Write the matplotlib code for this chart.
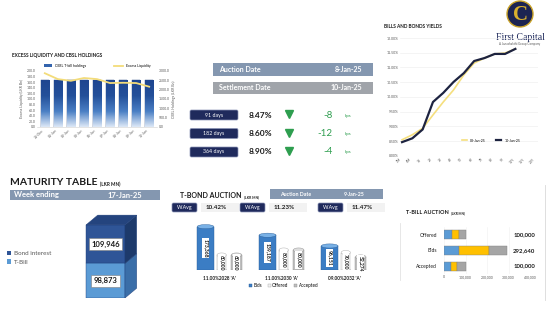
import matplotlib.pyplot as plt
import numpy as np
from matplotlib.patches import Rectangle, Polygon, Ellipse, Circle, FancyBboxPatch
from matplotlib.colors import LinearSegmentedColormap
from matplotlib.lines import Line2D
import matplotlib.transforms as mtransforms

plt.rcParams['font.family'] = ['Lato', 'DejaVu Sans']

W, H = 550, 310

# ---- data ----
liq_dates = ["31-Dec", "01-Jan", "02-Jan", "03-Jan", "06-Jan", "07-Jan", "08-Jan", "09-Jan", "10-Jan"]
cbsl_holdings = [2515.0, 2515.0, 2515.0, 2515.0, 2515.0, 2515.0, 2515.0, 2515.0, 2515.0]
excess_liquidity = [192.0, 171.0, 165.0, 175.0, 171.0, 157.0, 158.0, 157.0, 144.0]

auction_date = "8-Jan-25"
settlement_date = "10-Jan-25"
tbill_tenors = ["91 days", "182 days", "364 days"]
tbill_yields = [8.47, 8.60, 8.90]
tbill_change_bps = [-8, -12, -4]

yield_tenors = ["3M", "6M", "1Y", "2Y", "3Y", "4Y", "5Y", "6Y", "7Y", "8Y", "9Y", "10Y", "15Y", "20Y"]
yields_prev = [8.55, 8.72, 8.94, 9.39, 9.83, 10.24, 10.75, 11.15, 11.32, 11.46, 11.49, 11.63]
yields_curr = [8.47, 8.60, 8.90, 9.83, 10.14, 10.51, 10.81, 11.22, 11.32, 11.46, 11.46, 11.63]

week_ending = "17-Jan-25"
maturity_labels = ["T-Bill", "Bond interest"]
maturity_values = [98873, 109946]

tbond_auction_date = "9-Jan-25"
tbond_names = ["11.00%2028 'A'", "11.00%2030 'A'", "09.00%2032 'A'"]
tbond_wavg = [10.42, 11.23, 11.47]
tbond_bids = [173368, 139187, 96151]
tbond_offered = [60000, 80000, 70000]
tbond_accepted = [60000, 80000, 52274]

tbill_cats = ["Accepted", "Bids", "Offered"]
tbill_91 = [31000, 68450, 35000]
tbill_182 = [30500, 141770, 35000]
tbill_364 = [38500, 82420, 30000]

NAVY = "#1f2a5c"
STEEL = "#8497b0"
GREEN = "#2e9e4f"
TXT = "#1a1a1a"
GREYTXT = "#595959"


def rect(x, y, w, h):
    return [x / W, 1 - (y + h) / H, w / W, h / H]


fig = plt.figure(figsize=(5.5, 3.1), dpi=100)
fig.patch.set_facecolor("white")

ov = fig.add_axes([0, 0, 1, 1])
ov.set_xlim(0, W)
ov.set_ylim(H, 0)
ov.axis("off")


def box(x, y, w, h, color, ec="none", rounded=False):
    if rounded:
        p = FancyBboxPatch((x, y), w, h, boxstyle="round,pad=0,rounding_size=1.5",
                           fc=color, ec=ec, lw=0.5)
    else:
        p = Rectangle((x, y), w, h, fc=color, ec=ec, lw=0.5)
    ov.add_patch(p)


def title_with_unit(x, y, title, size, unit_size):
    t = ov.text(x, y, title, fontsize=size, weight="bold", color=TXT, va="baseline")
    ov.annotate("(LKR MN)", xy=(1, 0), xycoords=t, xytext=(1.5, 0), textcoords="offset points",
                fontsize=unit_size, weight="bold", color=TXT, va="bottom", ha="left")


def small_axes_style(ax):
    for s in ax.spines.values():
        s.set_visible(False)
    ax.tick_params(length=0, labelsize=2.5, labelcolor=GREYTXT, pad=1)


# ---- excess liquidity & CBSL holdings ----
ov.text(12, 55, "EXCESS LIQUIDITY AND CBSL HOLDINGS", fontsize=3.4, weight="bold",
        color=TXT, va="center")
ax1 = fig.add_axes(rect(37, 71, 120, 56))
ax1r = ax1.twinx()
xl = np.arange(len(liq_dates))
bars = ax1r.bar(xl, cbsl_holdings, width=0.65, color="#3464ad", edgecolor="#1f3f7a",
                linewidth=0.3, label="CBSL T-bill holdings")
cmap = LinearSegmentedColormap.from_list("b", ["#dbe7f6", "#4a7fc4", "#24509a", "#1f4690"])
grad = np.linspace(0, 1, 64).reshape(-1, 1)
for b in bars:
    im = ax1r.imshow(grad, extent=[b.get_x(), b.get_x() + b.get_width(), 0, b.get_height()],
                     aspect="auto", cmap=cmap, origin="lower", zorder=2)
    im.set_clip_path(b)
ax1r.set_xlim(-0.6, len(liq_dates) - 0.4)
ax1r.set_ylim(0, 3000)
ax1r.set_yticks(np.arange(0, 3001, 500))
ax1r.set_yticklabels([f"{v:.1f}" for v in np.arange(0, 3001, 500)])
ax1r.set_ylabel("CBSL Holdings (LKR Bn)", fontsize=2.5, color=GREYTXT, labelpad=2)
ax1.plot(xl, excess_liquidity, color="#f3dc7a", lw=1.3, label="Excess Liquidity")
ax1.set_ylim(0, 200)
ax1.set_yticks(np.arange(0, 201, 20))
ax1.set_yticklabels([f"{v:.1f}" for v in np.arange(0, 201, 20)])
ax1.set_ylabel("Excess Liquidity (LKR Bn)", fontsize=2.5, color=GREYTXT, labelpad=2)
ax1.set_xticks(xl)
ax1.set_xticklabels(liq_dates, rotation=45, ha="right")
ax1.set_zorder(ax1r.get_zorder() + 1)
ax1.patch.set_visible(False)
small_axes_style(ax1)
small_axes_style(ax1r)
ax1.spines["bottom"].set_visible(True)
ax1.spines["bottom"].set_color("#d0d0d0")
ax1.spines["bottom"].set_linewidth(0.4)
ax1.legend(handles=[Rectangle((0, 0), 1, 1, fc="#3464ad"),
                    Line2D([0], [0], color="#f3dc7a", lw=1.3)],
           labels=["CBSL T-bill holdings", "Excess Liquidity"], ncol=2, fontsize=2.5,
           frameon=False, loc="lower center", bbox_to_anchor=(0.5, 1.0),
           handlelength=2.5, columnspacing=8)

# ---- auction dates and T-bill yields ----
box(213, 63, 160, 13, STEEL)
ov.text(219, 69.5, "Auction Date", fontsize=5, color="white", weight="bold", va="center")
ov.text(362, 69.5, auction_date, fontsize=5, color="white", weight="bold", va="center", ha="right")
box(213, 82, 160, 12, "#a0a4aa")
ov.text(219, 88, "Settlement Date", fontsize=5, color="white", weight="bold", va="center")
ov.text(362, 88, settlement_date, fontsize=5, color="white", weight="bold", va="center", ha="right")

for i, (ten, yv, ch) in enumerate(zip(tbill_tenors, tbill_yields, tbill_change_bps)):
    yc = 115 + i * 18.5
    box(190, yc - 5, 48, 10, NAVY, ec="#8a93b5", rounded=True)
    ov.text(214, yc, ten, fontsize=3.8, color="white", ha="center", va="center")
    ov.text(260, yc, f"{yv:.2f}%", fontsize=6, weight="bold", color=TXT, ha="center", va="center")
    ov.plot(289, yc - 1, marker="v", color=GREEN, markersize=5.5)
    ov.text(333, yc, f"{ch}", fontsize=7, color=GREEN, ha="right", va="center")
    ov.text(345, yc + 0.5, "bps", fontsize=3.2, color=GREEN, ha="left", va="center")

# ---- bills and bonds yields ----
ov.text(384, 27, "BILLS AND BONDS YIELDS", fontsize=3.4, weight="bold", color=TXT, va="center")
axy = fig.add_axes(rect(400, 38, 138, 118))
xt = np.arange(len(yield_tenors))
axy.plot(xt[:len(yields_prev)], yields_prev, color="#f5df7e", lw=1.2, label="03-Jan-25")
axy.plot(xt[:len(yields_curr)], yields_curr, color="#1d2340", lw=1.6, label="10-Jan-25")
axy.set_ylim(8, 12)
yt = np.arange(8, 12.01, 0.5)
axy.set_yticks(yt)
axy.set_yticklabels([f"{v:.2f}%" for v in yt])
axy.set_xlim(-0.2, len(yield_tenors) - 0.8)
axy.set_xticks(xt)
axy.set_xticklabels(yield_tenors, rotation=45, ha="right")
axy.grid(axis="y", color="#ececec", lw=0.4)
axy.patch.set_visible(False)
small_axes_style(axy)
axy.legend(ncol=2, fontsize=2.5, frameon=False, loc="center", bbox_to_anchor=(0.66, 0.13),
           handlelength=1.5, columnspacing=3)

# logo
ov.add_patch(Circle((520, 14), 13, fc="#1c2452", ec="#c9a227", lw=1.0))
ov.text(520, 15, "C", fontsize=15, color="#d9b02e", weight="bold", ha="center", va="center",
        family="Liberation Serif")
ov.text(520, 38, "First Capital", fontsize=7, color=NAVY, ha="center", va="center",
        family="Liberation Serif")
ov.text(520, 44, "A Janashakthi Group Company", fontsize=2.2, color=GREYTXT, ha="center",
        va="center")

# ---- maturity table ----
title_with_unit(10, 185, "MATURITY TABLE", 7.5, 3.4)
box(10, 190, 150, 10, STEEL)
ov.text(14, 195, "Week ending", fontsize=5.5, color="white", weight="bold", va="center")
ov.text(125, 195, week_ending, fontsize=5.5, color="white", weight="bold", va="center", ha="center")

axm = fig.add_axes(rect(70, 200, 90, 98))
axm.set_xlim(0, 1)
ymax = 280000
axm.set_ylim(0, ymax)
axm.axis("off")
front = ["#5b9bd5", "#2f5597"]
side = ["#3a6ea8", "#1d3a6b"]
x0, wd, dx, dy = 0.178, 0.433, 0.13, ymax * 0.1
bottom = 0
for val, fc, sc in zip(maturity_values, front, side):
    axm.bar(x0, val, width=wd, bottom=bottom, align="edge", color=fc, edgecolor="#1f3f7a", lw=0.3)
    axm.add_patch(Polygon([(x0 + wd, bottom), (x0 + wd + dx, bottom + dy),
                           (x0 + wd + dx, bottom + val + dy), (x0 + wd, bottom + val)],
                          closed=True, fc=sc, ec="#1f3f7a", lw=0.3))
    axm.text(x0 + wd / 2, bottom + val / 2, f"{val:,}", fontsize=5.5, weight="bold", color=TXT,
             ha="center", va="center",
             bbox=dict(fc="white", ec="#7f7f7f", lw=0.4, boxstyle="square,pad=0.3"))
    bottom += val
axm.add_patch(Polygon([(x0, bottom), (x0 + dx, bottom + dy), (x0 + wd + dx, bottom + dy),
                       (x0 + wd, bottom)], closed=True, fc="#24447e", ec="#1f3f7a", lw=0.3))
fig.legend(handles=[Rectangle((0, 0), 1, 1, fc=front[1]), Rectangle((0, 0), 1, 1, fc=front[0])],
           labels=[maturity_labels[1], maturity_labels[0]], loc="upper left",
           bbox_to_anchor=(1 / W, 1 - 245 / H), frameon=False, fontsize=4.5,
           handlelength=0.7, handleheight=0.7, handletextpad=0.4, labelspacing=0.5,
           labelcolor=GREYTXT)

# ---- T-bond auction ----
title_with_unit(180, 198, "T-BOND AUCTION", 5.0, 2.5)
box(270, 189, 113, 10, STEEL)
ov.text(280, 194, "Auction Date", fontsize=3.8, color="white", weight="bold", va="center")
ov.text(365, 194, tbond_auction_date, fontsize=3.8, color="white", weight="bold", va="center",
        ha="right")
for bx, wv in zip([172, 240, 318], tbond_wavg):
    box(bx, 203, 25, 9, NAVY, ec="#8a93b5", rounded=True)
    ov.text(bx + 12.5, 207.5, "W.Avg", fontsize=3.8, color="white", ha="center", va="center")
    box(bx + 29, 203, 38, 9, "#f2f2f2")
    ov.text(bx + 34, 207.5, f"{wv:.2f}%", fontsize=4.5, weight="bold", color=TXT, va="center")

axb = fig.add_axes(rect(190, 215, 180, 55))
ytop = 220000
axb.set_ylim(0, ytop)
axb.set_xlim(-0.48, 2.42)
pos = np.arange(len(tbond_names))
series = [(tbond_bids, -0.23, 0.27, "#3b7dc4", "#79b1e6", "#2b5f99", "Bids"),
          (tbond_offered, 0.03, 0.15, "#f2f2f2", "#ffffff", "#a6a6a6", "Offered"),
          (tbond_accepted, 0.27, 0.17, "#bfbfbf", "#dedede", "#8c8c8c", "Accepted")]
eh = ytop * 0.075
for vals, off, bw, fc, tc, ec, lab in series:
    xs = pos + off
    axb.bar(xs, vals, width=bw, color=fc, edgecolor=ec, lw=0.3, label=lab, zorder=2)
    for xx, v in zip(xs, vals):
        axb.add_patch(Ellipse((xx, 0), bw, eh, fc=fc, ec=ec, lw=0.3, zorder=1.9))
        axb.add_patch(Ellipse((xx, v), bw, eh, fc=tc, ec=ec, lw=0.3, zorder=2.1))
        axb.text(xx, v / 2, f"{v:,}", rotation=270, fontsize=3.6, weight="bold", color=TXT,
                 ha="center", va="center", zorder=3,
                 bbox=dict(fc="white", ec="none", boxstyle="square,pad=0.15"))
axb.set_xticks(pos)
axb.set_xticklabels(tbond_names, fontsize=3.3, weight="bold", color=TXT)
axb.set_yticks([])
for s in axb.spines.values():
    s.set_visible(False)
axb.tick_params(length=0, pad=4)
axb.patch.set_visible(False)
axb.legend(ncol=3, fontsize=3.3, frameon=False, loc="upper center", bbox_to_anchor=(0.52, -0.17),
           handlelength=0.7, handleheight=0.7, handletextpad=0.3, columnspacing=1.2)

# ---- T-bill auction ----
ov.plot([400, 400], [223, 280], color="#e3e3e3", lw=0.6)
ov.plot([545, 545], [185, 300], color="#d9d9d9", lw=0.6)
title_with_unit(406, 214, "T-BILL AUCTION", 4.0, 2.3)
axt = fig.add_axes(rect(444, 227, 86, 47))
yc = np.arange(len(tbill_cats))
left = np.zeros(len(tbill_cats))
for vals, fc in zip([tbill_91, tbill_182, tbill_364], ["#5b9bd5", "#ffc000", "#a5a5a5"]):
    axt.barh(yc, vals, left=left, height=0.58, color=fc, edgecolor="#7f7f7f", lw=0.3, zorder=2)
    left = left + np.array(vals)
trans = mtransforms.blended_transform_factory(axt.transAxes, axt.transData)
for yy, tot in zip(yc, left):
    axt.text(0.93, yy, f"{int(tot):,}", transform=trans, fontsize=4.3, weight="bold", color=TXT,
             ha="center", va="center")
axt.set_xlim(0, 400000)
axt.set_ylim(-0.5, len(tbill_cats) - 0.5)
axt.set_xticks(np.arange(0, 400001, 100000))
axt.set_xticklabels([f"{v:,}" for v in range(0, 400001, 100000)])
axt.set_yticks(yc)
axt.set_yticklabels(tbill_cats)
axt.grid(axis="x", color="#f0f0f0", lw=0.4)
axt.patch.set_visible(False)
small_axes_style(axt)
axt.tick_params(axis="y", labelsize=3.6, labelcolor=TXT, pad=5)

fig.savefig("out.png", dpi=100, facecolor="white")
